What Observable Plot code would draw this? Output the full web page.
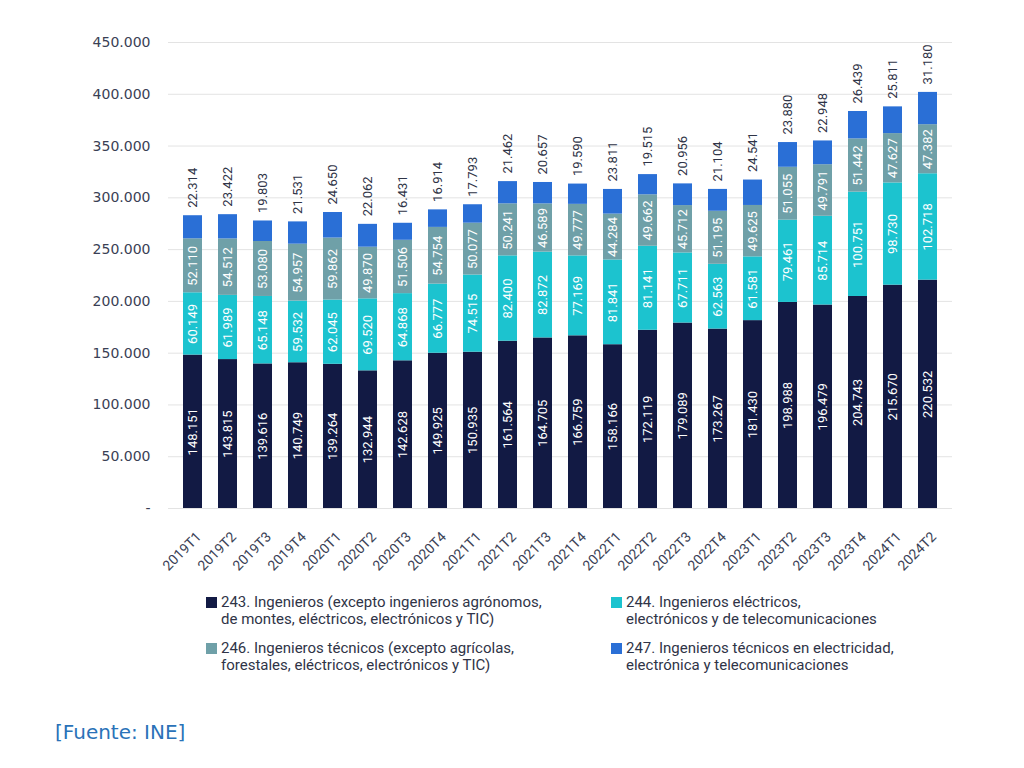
<!DOCTYPE html>
<html>
<head>
<meta charset="utf-8">
<script src="https://cdn.jsdelivr.net/npm/d3@7"></script>
<script src="https://cdn.jsdelivr.net/npm/@observablehq/plot@0.6"></script>
<style>
  body { margin: 0; background: #fff; }
  #wrap { position: relative; width: 1024px; height: 768px; overflow: hidden; }
  #chart { position: absolute; left: 0; top: 0; }
  .leg { position: absolute; font-family: Roboto, sans-serif; font-size: 15px; line-height: 17px; color: #2f3447; }
  .leg .sw { position: absolute; left: -15px; top: 3px; width: 11px; height: 11px; }
  #src { position: absolute; left: 55px; top: 720px; font-family: "DejaVu Sans", sans-serif; font-size: 20px; color: #2a72b8; }
</style>
</head>
<body>
<div id="wrap">
  <div id="chart"></div>
  <div id="legend"></div>
  <div id="src">[Fuente: INE]</div>
</div>
<script>
const quarters = ["2019T1","2019T2","2019T3","2019T4","2020T1","2020T2","2020T3","2020T4","2021T1","2021T2","2021T3","2021T4","2022T1","2022T2","2022T3","2022T4","2023T1","2023T2","2023T3","2023T4","2024T1","2024T2"];
const s243 = [148151,143815,139616,140749,139264,132944,142628,149925,150935,161564,164705,166759,158166,172119,179089,173267,181430,198988,196479,204743,215670,220532];
const s244 = [60149,61989,65148,59532,62045,69520,64868,66777,74515,82400,82872,77169,81841,81141,67711,62563,61581,79461,85714,100751,98730,102718];
const s246 = [52110,54512,53080,54957,59862,49870,51506,54754,50077,50241,46589,49777,44284,49662,45712,51195,49625,51055,49791,51442,47627,47382];
const s247 = [22314,23422,19803,21531,24650,22062,16431,16914,17793,21462,20657,19590,23811,19515,20956,21104,24541,23880,22948,26439,25811,31180];
const seriesKeys = ["243","244","246","247"];
const seriesLabels = [
  "243. Ingenieros (excepto ingenieros agrónomos,<br>de montes, eléctricos, electrónicos y TIC)",
  "244. Ingenieros eléctricos,<br>electrónicos y de telecomunicaciones",
  "246. Ingenieros técnicos (excepto agrícolas,<br>forestales, eléctricos, electrónicos y TIC)",
  "247. Ingenieros técnicos en electricidad,<br>electrónica y telecomunicaciones"
];
const colors = ["#121a44","#1cc3cf","#6fa0a8","#2a6fd6"];
const yTicks = [0,50000,100000,150000,200000,250000,300000,350000,400000,450000];

const seriesValues = [s243, s244, s246, s247];
const rows = [];
quarters.forEach((q, i) => {
  seriesValues.forEach((arr, k) => rows.push({q, serie: seriesKeys[k], value: arr[i]}));
});
const fmt = v => v === 0 ? "-" : d3.format(",")(v).replace(/,/g, ".");

const chart = Plot.plot({
  width: 1024,
  height: 585,
  marginTop: 42,
  marginBottom: 77,
  marginLeft: 168,
  marginRight: 72,
  style: {fontFamily: "Roboto, sans-serif", background: "#fff"},
  x: {domain: quarters, paddingInner: 0.45, paddingOuter: 0.225, axis: null},
  y: {domain: [0, 450000], axis: null, label: null},
  color: {domain: seriesKeys, range: colors},
  marks: [
    Plot.gridY(yTicks, {stroke: "#e3e3e3", strokeOpacity: 1}),
    Plot.axisY(yTicks, {tickSize: 0, tickPadding: 18, tickFormat: fmt, label: null, fontFamily: "DejaVu Sans, sans-serif", fontSize: 14, fill: "#3a3f55"}),
    Plot.barY(rows, Plot.stackY({x: "q", y: "value", fill: "serie", order: seriesKeys})),
    Plot.text(rows, Plot.stackY({
      x: "q", y: "value", z: "serie", order: seriesKeys,
      text: d => d.serie === "247" ? null : fmt(d.value),
      rotate: -90, fill: "white", fontSize: 13
    })),
    Plot.text(rows, Plot.stackY2({
      x: "q", y: "value", z: "serie", order: seriesKeys,
      text: d => d.serie === "247" ? fmt(d.value) : null,
      rotate: -90, textAnchor: "start", dy: -8, fill: "#2f3447", fontSize: 13
    })),
    Plot.text(quarters, {
      x: d => d, text: d => d, frameAnchor: "bottom",
      rotate: -45, textAnchor: "end", lineAnchor: "middle",
      dx: 6, dy: 26, fontSize: 14, fill: "#3a3f55"
    })
  ]
});
document.getElementById("chart").appendChild(chart);

// legend
const legPos = [
  {left: 221, top: 594},
  {left: 626, top: 594},
  {left: 221, top: 640},
  {left: 626, top: 640}
];
const legend = document.getElementById("legend");
seriesKeys.forEach((k, i) => {
  const d = document.createElement("div");
  d.className = "leg";
  d.style.left = legPos[i].left + "px";
  d.style.top = legPos[i].top + "px";
  d.innerHTML = `<span class="sw" style="background:${colors[i]}"></span>${seriesLabels[i]}`;
  legend.appendChild(d);
});
</script>
</body>
</html>
